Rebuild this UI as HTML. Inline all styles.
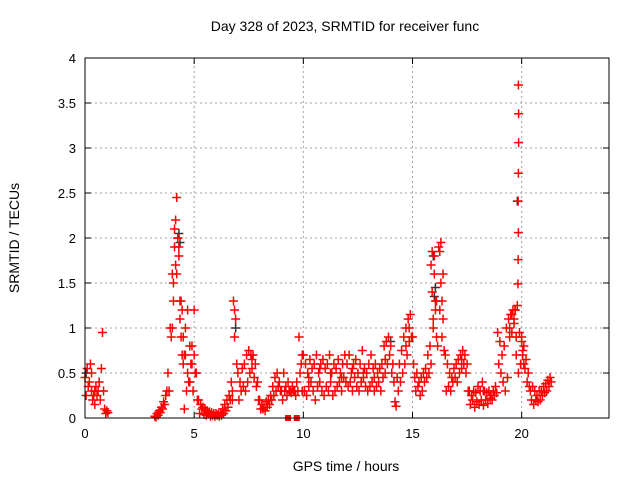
<!DOCTYPE html>
<html><head><meta charset="utf-8"><style>
body{margin:0;background:#fff;}
svg{display:block;font-family:"Liberation Sans",sans-serif;}
</style></head><body>
<svg id="chart" width="640" height="480">
<rect width="640" height="480" fill="#fff"/>
<text x="345" y="31" text-anchor="middle" font-size="14">Day 328 of 2023, SRMTID for receiver func</text>
<text x="346" y="471" text-anchor="middle" font-size="14">GPS time / hours</text>
<text transform="translate(19,238) rotate(-90)" text-anchor="middle" font-size="14">SRMTID / TECUs</text>
<g id="grid"></g><g id="ticks"></g><g id="marks"></g>
<rect x="85" y="58" width="524" height="360" fill="none" stroke="#000" stroke-width="1"/>
</svg>
<script>
const xTicks=[0,5,10,15,20];
const yTicks=[0,0.5,1,1.5,2,2.5,3,3.5,4];
const yTickLabels=["0","0.5","1","1.5","2","2.5","3","3.5","4"];
const seg1Start=0.0;
const seg1A=[.45,.55,.4,.3,.25,.35,.3,.2,.95,.1,.08];
const seg1B=[.25,.35,.6,.2,.15,.25,.4,.55,.3,.05,.06];
const seg2Start=3.2;
const seg2A=[.02,.05,.08,.12,.18,.25,
.5,1.0,1.6,2.1,2.45,1.9,1.3,
.9,.7,1.2,.8,.6,1.2,.5,
.2,.15,.12,.1,.08,.07,.06,.05,.05,.04,.06,
.1,.15,.2,.25,.4,
1.3,1.1,
.5,.4,.55,.6,.7,
.75,.7,.7,.6,.4,
.2,.15,.12,.18,.2,
.25,.35,.45,.5,.4,.3,.5,
.35,.4,.3,.35,.3,.4,
.9,.6,
.7,.6,.5,.65,.55,.6,.7,.5,.6,.65,.55,.6,.7,.5,.6,.55,.65,.5,.6,.7,
.6,.7,.5,.6,.65,.5,.6,.75,.55,.5,.6,.7,.55,.6,.5,.55,.6,.8,
.85,.9,.8,.6,
.18,.45,
.6,.75,.9,1.0,1.1,1.15,.9,
.45,.5,.4,.45,
.5,.55,.7,.8,
1.85,1.8,1.3,
1.9,1.95,1.6,
.7,.6,.5,.45,.55,.6,
.65,.7,.75,.7,.6,
.3,.25,.3,.28,.35,.3,.4,.3,.28,.3,.25,.3,.35,
.95,.85,.7,.8,1.0,
1.1,1.15,1.2,1.2,1.25,
.95,.9,.8,.65,.5,
.3,.35,.3,.25,.3,
.3,.35,.38,.42,.45];
const seg2B=[.01,.03,.06,.1,.15,.3,
.3,.9,1.3,1.7,2.0,1.1,.7,
.1,.3,.4,.6,.3,.5,.2,
.05,.1,.04,.03,.05,.02,.03,.02,.03,.02,.03,
.05,.08,.12,.2,.3,
.9,.6,
.2,.3,.35,.3,.4,
.5,.55,.45,.35,.2,
.1,.1,.08,.12,.15,
.2,.25,.3,.35,.3,.2,.3,
.25,.3,.28,.3,.25,.3,
.5,.3,
.3,.25,.35,.4,.3,.2,.35,.4,.3,.25,.35,.3,.4,.25,.3,.35,.4,.3,.45,.4,
.35,.4,.3,.45,.35,.3,.4,.45,.35,.3,.35,.4,.3,.35,.4,.3,.45,.5,
.6,.7,.5,.4,
.13,.3,
.4,.5,.6,.7,.85,.9,.6,
.3,.35,.25,.3,
.4,.45,.5,.6,
1.0,1.3,.8,
1.2,.9,.75,
.3,.35,.3,.4,.45,.4,
.5,.55,.6,.5,.3,
.15,.2,.12,.18,.15,.2,.14,.2,.16,.22,.2,.25,.28,
.6,.5,.4,.3,.45,
.9,.95,1.05,.7,.5,
.6,.7,.55,.4,.35,
.2,.15,.2,.18,.2,
.25,.28,.3,.35,.4];
const extraTimes=[4.0,4.05,4.1,4.15,4.2,4.25,4.3,4.35,4.4,4.45,4.5,4.55,4.6,4.7,4.8,4.9,5.0,
15.85,15.9,15.95,16.0,16.05,16.1,16.25,16.3,16.35,16.4,
19.45,19.55,19.65,19.7,19.75,20.0,20.05,20.1,
10.25,10.75,11.25,11.75,12.25,12.75,13.25,13.75,14.7,14.85,17.25,18.25,6.75,6.85,7.65,9.95,0.3,0.45];
const extraValues=[1.0,1.5,1.9,2.2,1.6,2.0,1.8,1.3,0.9,1.2,0.6,0.7,1.0,0.5,0.4,0.8,0.7,
1.7,1.4,1.1,1.6,1.2,0.9,1.85,1.5,1.3,1.1,
1.0,1.15,1.1,1.2,0.9,0.85,0.75,0.6,
.45,.55,.5,.45,.55,.5,.45,.65,.8,1.0,.65,.3,.2,1.2,.65,.7,.5,.3];
const spikeTimes=[19.85,19.86,19.86,19.85,19.84,19.85,19.84,19.83];
const spikeValues=[3.7,3.38,3.06,2.72,2.41,2.06,1.76,1.49];
const darkTimes=[0.05,4.3,4.35,15.95,16.0,16.05,19.8,6.9,14.0];
const darkValues=[0.5,2.05,1.95,1.8,1.35,1.45,2.41,1.0,0.85];
const squareTimes=[9.3,9.7];
const squareValues=[0,0];
const STEP=0.1;

const X0=85,X1=609,Y0=418,Y1=58,XMAX=24,YMAX=4;
const xs=v=>X0+(X1-X0)*v/XMAX;
const ys=v=>Y0-(Y0-Y1)*v/YMAX;
const NS="http://www.w3.org/2000/svg";
const mk=(t,a,p)=>{const e=document.createElementNS(NS,t);for(const k in a)e.setAttribute(k,a[k]);p.appendChild(e);return e;};
const grid=document.getElementById('grid'),ticks=document.getElementById('ticks'),marks=document.getElementById('marks');
xTicks.forEach(v=>{const x=xs(v);
 if(v>0){const g=mk('line',{x1:x,x2:x,y1:Y0,y2:Y1,stroke:'#a0a0a0','stroke-dasharray':'2,3'},grid);
 
 }
 mk('line',{x1:x,x2:x,y1:Y0,y2:Y0-6,stroke:'#000'},ticks);
 mk('line',{x1:x,x2:x,y1:Y1,y2:Y1+6,stroke:'#000'},ticks);
 const t=mk('text',{x:x,y:Y0+20,'text-anchor':'middle','font-size':13},ticks);t.textContent=v;
 
 
});
yTicks.forEach((v,i)=>{const y=ys(v);
 if(v>0&&v<YMAX){const g=mk('line',{x1:X0,x2:X1,y1:y,y2:y,stroke:'#a0a0a0','stroke-dasharray':'2,3'},grid);
 
 }
 mk('line',{x1:X0,x2:X0+6,y1:y,y2:y,stroke:'#000'},ticks);
 mk('line',{x1:X1,x2:X1-6,y1:y,y2:y,stroke:'#000'},ticks);
 const t=mk('text',{x:X0-9,y:y+5,'text-anchor':'end','font-size':13},ticks);t.textContent=yTickLabels[i];
 
 
});
function plus(t,v,col,name){const x=xs(t),y=ys(v);
 const p=mk('path',{d:`M${x-4.5},${y}H${x+4.5}M${x},${y-4.5}V${y+4.5}`,stroke:col,'stroke-width':1.5,fill:'none'},marks);
 
 
}
darkTimes.forEach((t,i)=>plus(t,darkValues[i],'#333','point-dark'));
seg1A.forEach((v,i)=>plus(seg1Start+i*STEP,v,'#f00','point-a'));
seg1B.forEach((v,i)=>plus(seg1Start+i*STEP+0.05,v,'#f00','point-b'));
seg2A.forEach((v,i)=>plus(seg2Start+i*STEP,v,'#f00','point-a'));
seg2B.forEach((v,i)=>plus(seg2Start+i*STEP+0.05,v,'#f00','point-b'));
extraTimes.forEach((t,i)=>plus(t,extraValues[i],'#f00','point-c'));
spikeTimes.forEach((t,i)=>plus(t,spikeValues[i],'#f00','point-spike'));
squareTimes.forEach((t,i)=>{const r=mk('rect',{x:xs(t)-3,y:ys(squareValues[i])-3,width:6,height:6,fill:'#f00'},marks);
 
 });
</script>
</body></html>
